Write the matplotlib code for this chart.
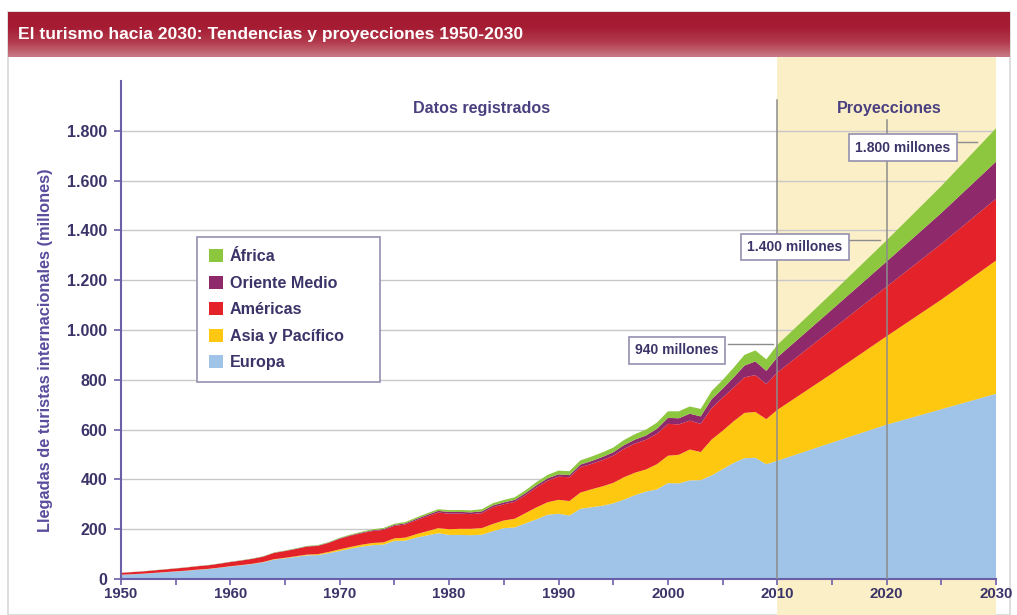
import matplotlib
matplotlib.use("Agg")
import matplotlib.pyplot as plt
from matplotlib.patches import Rectangle, Patch
from matplotlib.colors import LinearSegmentedColormap
import numpy as np

plt.rcParams['font.family'] = ['Liberation Sans', 'DejaVu Sans']

# ---- data (millones de llegadas) ----
years = list(range(1950, 2011)) + [2015, 2020, 2025, 2030]

europa = [16.8, 19, 21, 24, 27, 30, 33, 37, 40, 45,
          50.4, 55, 60, 67, 78, 83, 89, 95, 96, 104,
          113, 122, 130, 136, 138, 153, 154, 166, 175, 184,
          177, 177, 176, 178, 192, 204, 207, 224, 240, 258,
          262, 255, 282, 288, 294, 304, 319, 337, 351, 360,
          385, 384, 396, 397, 416, 441, 466, 485, 487, 461,
          475, 548, 620, 682, 744]
asia = [0.2, 0.3, 0.4, 0.5, 0.6, 0.6, 0.7, 0.7, 0.8, 0.8,
        0.9, 1.0, 1.2, 1.4, 1.6, 2.0, 2.5, 3.0, 3.8, 4.8,
        6.2, 6.9, 7.9, 8.7, 9.2, 10.2, 12, 14, 17, 20,
        23, 24.5, 25.5, 26.5, 29, 31, 35, 41, 48, 50,
        56, 58, 65, 72, 78, 82, 90, 90, 89, 101,
        110, 115, 124, 113, 144, 154, 167, 182, 184, 181,
        204, 277, 355, 440, 535]
americas = [7.5, 8.2, 9, 9.8, 10.6, 11.5, 12.5, 13.5, 14.2, 15.4,
            16.7, 18, 19.5, 21, 25, 27, 29, 32, 33, 36,
            42.3, 45, 46, 48, 50, 50, 53, 56, 60, 63,
            62.3, 61, 59, 60, 67, 65.1, 68, 72, 80, 87,
            92.8, 95.7, 102, 102, 105, 109, 114, 117, 119, 122,
            128, 122, 116, 113, 126, 133, 135, 143, 148, 141,
            150, 177, 199, 224, 248]
oriente = [0.2, 0.2, 0.2, 0.3, 0.3, 0.4, 0.4, 0.4, 0.5, 0.5,
           0.6, 0.6, 0.7, 0.8, 0.9, 1.0, 1.1, 1.2, 1.4, 1.6,
           1.9, 2.2, 2.6, 3.0, 3.5, 4.0, 4.6, 5.2, 5.9, 6.5,
           7.1, 7.0, 7.1, 7.3, 7.4, 7.5, 7.8, 8.3, 8.8, 9.2,
           9.6, 8.4, 10.5, 11.6, 12.8, 13.7, 15, 16, 17.5, 20,
           24.1, 24.5, 28, 30, 36, 36, 41, 47, 55, 53,
           61, 80, 101, 124, 149]
africa = [0.5, 0.5, 0.5, 0.6, 0.6, 0.6, 0.7, 0.7, 0.7, 0.8,
          0.8, 0.9, 1.0, 1.1, 1.3, 1.4, 1.6, 1.8, 2.0, 2.2,
          2.4, 2.8, 3.3, 3.8, 4.3, 4.8, 5.3, 5.8, 6.3, 6.8,
          7.2, 7.6, 8.0, 8.6, 9.1, 9.7, 10.5, 11.5, 12.8, 13.8,
          15, 16, 17, 17.8, 18.4, 18.9, 20.6, 22, 23.5, 25,
          26.2, 28, 29, 30, 33, 35, 39, 43, 44, 46,
          50, 66, 85, 108, 134]

series = [europa, asia, americas, oriente, africa]
labels = ['Europa', 'Asia y Pacífico', 'Américas', 'Oriente Medio', 'África']
colors = ['#9fc4e7', '#fdc80f', '#e3222a', '#8e2a6c', '#8dc63f']

yticks = list(range(0, 1801, 200))
xticks = [1950, 1960, 1970, 1980, 1990, 2000, 2010, 2020, 2030]

navy = '#3b3468'
purple = '#6b5fa8'

W, H = 1017, 615
fig = plt.figure(figsize=(W / 100, H / 100), dpi=100)

# outer frame
fig.patches.append(Rectangle((8 / W, 0), 1002 / W, 1 - 12 / H, transform=fig.transFigure,
                             facecolor='white', edgecolor='#d8d8d8', lw=1.2, zorder=-3))
# projection shading (figure coords)
fig.patches.append(Rectangle((777 / W, 0), 219 / W, 1 - 57 / H, transform=fig.transFigure,
                             facecolor='#fbefc8', edgecolor='none', zorder=-2))

# title bar with gradient
tax = fig.add_axes([8 / W, 1 - 57 / H, 1002 / W, 45 / H])
cmap = LinearSegmentedColormap.from_list('bar', ['#a31a31', '#a51c33', '#b23a4c', '#c97a86'])
grad = np.linspace(0, 1, 100).reshape(-1, 1)
tax.imshow(grad, aspect='auto', cmap=cmap, extent=[0, 1, 0, 1], origin='upper')
tax.set_axis_off()
tax.text(10 / 1002, 0.5, 'El turismo hacia 2030: Tendencias y proyecciones 1950-2030',
         color='white', fontsize=12.6, fontweight='bold', va='center', ha='left',
         transform=tax.transAxes)

ax = fig.add_axes([121 / W, 36 / H, 875 / W, 498 / H])
ax.set_facecolor('none')
ax.stackplot(years, *series, colors=colors, linewidth=0, zorder=2)

ax.set_xlim(1950, 2030)
ax.set_ylim(0, 2000)
ax.set_yticks(yticks)
ax.set_yticklabels([f"{v:,}".replace(',', '.') for v in yticks])
ax.set_xticks(xticks)
ax.set_xticks(range(1955, 2030, 10), minor=True)
ax.grid(axis='y', color='#c8c8c8', lw=1, zorder=1)
for s in ['top', 'right']:
    ax.spines[s].set_visible(False)
for s in ['left', 'bottom']:
    ax.spines[s].set_color(purple)
    ax.spines[s].set_linewidth(1.5)
ax.tick_params(axis='both', which='both', color=purple, labelcolor=navy, width=1.2)
ax.tick_params(axis='y', length=5, pad=5)
ax.tick_params(axis='x', which='major', length=4, pad=2)
ax.tick_params(axis='x', which='minor', length=4)
for t in ax.get_yticklabels():
    t.set_fontweight('bold')
    t.set_fontsize(11.5)
for t in ax.get_xticklabels():
    t.set_fontweight('bold')
    t.set_fontsize(10.8)

ax.set_ylabel('Llegadas de turistas internacionales (millones)', color='#5a4c9c',
              fontsize=11.8, fontweight='bold')
ax.yaxis.set_label_coords(-0.078, 0.46)

# vertical markers
ax.plot([2010, 2010], [0, 1925], color='#8c8c8c', lw=1.1, zorder=3)
ax.plot([2020, 2020], [0, 1845], color='#8c8c8c', lw=1.1, zorder=3)

ax.text(1983, 1890, 'Datos registrados', color='#4a4080', fontsize=11.6,
        fontweight='bold', ha='center', va='center')
ax.text(2020.2, 1888, 'Proyecciones', color='#4a4080', fontsize=11.6,
        fontweight='bold', ha='center', va='center')

box = dict(boxstyle='square,pad=0.45', facecolor='white', edgecolor='#9490b0', lw=1.2)
ax.text(2000.8, 918, '940 millones', color=navy, fontsize=10, fontweight='bold',
        ha='center', va='center', bbox=box, zorder=5)
ax.plot([2005.5, 2009.6], [944, 944], color='#8c8c8c', lw=1, zorder=4)
ax.text(2011.6, 1334, '1.400 millones', color=navy, fontsize=10, fontweight='bold',
        ha='center', va='center', bbox=box, zorder=5)
ax.plot([2016.6, 2019.4], [1362, 1362], color='#8c8c8c', lw=1, zorder=4)
ax.text(2021.5, 1732, '1.800 millones', color=navy, fontsize=10, fontweight='bold',
        ha='center', va='center', bbox=box, zorder=5)
ax.plot([2026.3, 2028.3], [1756, 1756], color='#8c8c8c', lw=1, zorder=4)

# legend box drawn separately so it can be wider than its text
ax.add_patch(Rectangle((197 / W, 1 - 382 / H), 183 / W, 145 / H, transform=fig.transFigure,
                       facecolor='white', edgecolor='#9490b0', lw=1.2, zorder=5.5,
                       clip_on=False))
handles = [Patch(facecolor=c, edgecolor='none') for c in colors][::-1]
leg = ax.legend(handles, labels[::-1], loc='upper left',
                bbox_to_anchor=(197 / W, 1 - 237 / H), bbox_transform=fig.transFigure,
                borderaxespad=0, handlelength=0.85, handleheight=0.85, handletextpad=0.45,
                labelspacing=0.72, borderpad=0.75, frameon=False,
                prop={'weight': 'bold', 'size': 11.6})
for t in leg.get_texts():
    t.set_color(navy)
    t.set_fontweight('bold')
leg.set_zorder(6)

fig.savefig('out.png', dpi=100)
